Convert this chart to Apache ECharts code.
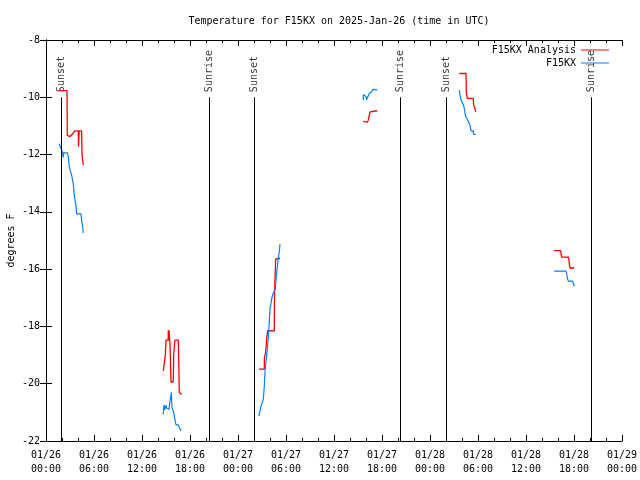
<!DOCTYPE html>
<html>
<head>
<meta charset="utf-8">
<script src="https://cdn.jsdelivr.net/npm/echarts@6/dist/echarts.min.js"></script>
<style>html,body{margin:0;padding:0;background:#fff}#c{width:640px;height:480px}</style>
</head>
<body>
<div id="c"></div>
<script>
// hours since 2025-01-26 00:00 UTC, temperature in degrees F
const analysisSeg1 = [[1.75,-9.77],[2.63,-9.77],[2.66,-11.33],[3.0,-11.37],[3.25,-11.3],[3.6,-11.17],[4.04,-11.17],[4.06,-11.73],[4.15,-11.17],[4.45,-11.17],[4.5,-12.0],[4.6,-12.03],[4.66,-12.37]];
const analysisSeg2 = [[14.66,-19.55],[14.91,-19.55],[14.91,-19.03],[15.0,-19.03],[15.0,-18.48],[15.27,-18.48],[15.29,-18.13],[15.33,-18.5],[15.37,-18.13],[15.44,-18.13],[15.5,-18.6],[15.58,-19.5],[15.63,-19.94],[15.91,-19.94],[15.96,-19.0],[16.04,-18.68],[16.125,-18.48],[16.54,-18.48],[16.6,-19.38],[16.66,-20.31],[16.85,-20.31],[16.96,-20.38]];
const analysisSeg3 = [[26.625,-19.49],[27.29,-19.49],[27.3,-19.1],[27.46,-18.9],[27.59,-18.4],[27.71,-18.15],[28.54,-18.15],[28.56,-16.93],[28.625,-16.9],[28.71,-15.65],[29.25,-15.62]];
const analysisSeg4 = [[39.66,-10.84],[40.16,-10.87],[40.29,-10.8],[40.375,-10.68],[40.5,-10.51],[40.625,-10.47],[41.41,-10.47]];
const analysisSeg5 = [[51.66,-9.17],[51.75,-9.12],[51.96,-9.17],[52.5,-9.17],[52.54,-9.81],[52.66,-10.04],[53.41,-10.04],[53.45,-10.27],[53.625,-10.4],[53.71,-10.51]];
const analysisSeg6 = [[63.5,-15.35],[64.34,-15.35],[64.375,-15.45],[64.46,-15.58],[65.29,-15.58],[65.375,-15.7],[65.41,-15.82],[65.5,-15.96],[66.04,-15.96]];

const obsSeg1 = [[1.63,-11.62],[1.96,-11.85],[2.09,-11.94],[2.16,-12.1],[2.2,-11.94],[2.66,-11.94],[2.79,-12.08],[2.91,-12.43],[3.09,-12.61],[3.21,-12.73],[3.41,-13.02],[3.54,-13.43],[3.71,-13.72],[3.84,-14.07],[4.375,-14.07],[4.46,-14.3],[4.59,-14.53],[4.66,-14.74]];
const obsSeg2 = [[14.66,-21.07],[14.7,-20.85],[14.79,-20.74],[14.85,-20.92],[14.9,-20.78],[14.96,-20.85],[15.02,-20.76],[15.08,-20.85],[15.15,-20.8],[15.21,-20.9],[15.3,-20.85],[15.375,-20.9],[15.45,-20.72],[15.5,-20.7],[15.56,-20.5],[15.625,-20.48],[15.67,-20.3],[15.71,-20.25],[15.75,-20.85],[15.79,-20.9],[15.91,-20.95],[16.04,-21.0],[16.125,-21.25],[16.25,-21.44],[16.42,-21.5],[16.54,-21.44],[16.66,-21.52],[16.75,-21.5],[16.875,-21.65]];
const obsSeg3 = [[26.625,-21.12],[26.75,-20.95],[26.875,-20.77],[27.04,-20.66],[27.16,-20.54],[27.29,-20.08],[27.375,-19.61],[27.46,-19.32],[27.59,-19.03],[27.71,-18.62],[27.79,-18.38],[27.91,-17.86],[28.0,-17.39],[28.125,-17.2],[28.25,-16.98],[28.41,-16.84],[28.54,-16.8],[28.66,-16.69],[28.75,-16.4],[28.84,-16.11],[28.96,-15.82],[29.04,-15.58],[29.16,-15.41],[29.25,-15.12]];
const obsSeg4 = [[39.66,-10.1],[39.68,-9.9],[39.875,-9.87],[40.0,-9.98],[40.09,-10.08],[40.29,-10.04],[40.41,-9.87],[40.59,-9.85],[40.71,-9.81],[40.84,-9.73],[41.41,-9.73]];
const obsSeg5 = [[51.66,-9.75],[51.75,-9.9],[51.875,-10.1],[52.09,-10.1],[52.16,-10.25],[52.29,-10.39],[52.375,-10.55],[52.46,-10.66],[52.59,-10.73],[52.71,-10.8],[52.875,-10.86],[53.0,-10.98],[53.125,-11.17],[53.41,-11.17],[53.45,-11.3],[53.71,-11.3]];
const obsSeg6 = [[63.5,-16.07],[65.0,-16.07],[65.09,-16.15],[65.16,-16.3],[65.29,-16.42],[65.84,-16.42],[65.91,-16.5],[66.04,-16.6]];

const sunTimes = [1.96, 20.41, 26.04, 44.25, 50.09, 68.21];
const sunNames = ['Sunset','Sunrise','Sunset','Sunrise','Sunset','Sunrise'];
const sunLineTop = -10;
const sunLabelY = -9.82;

const titleText = 'Temperature for F15KX on 2025-Jan-26 (time in UTC)';
const yName = 'degrees F';
const seriesNames = ['F15KX Analysis', 'F15KX'];

function joinSegs(segs) {
  const out = [];
  segs.forEach((s, i) => {
    if (i > 0) out.push([s[0][0] - 0.01, null]);
    s.forEach(p => out.push(p));
  });
  return out;
}
const analysisData = joinSegs([analysisSeg1, analysisSeg2, analysisSeg3, analysisSeg4, analysisSeg5, analysisSeg6]);
const obsData = joinSegs([obsSeg1, obsSeg2, obsSeg3, obsSeg4, obsSeg5, obsSeg6]);

const FONT = 'DejaVu Sans Mono';
function xLabel(v) {
  const d = 26 + Math.floor(v / 24);
  const h = Math.round(v % 24);
  return '01/' + String(d) + '\n' + String(h).padStart(2, '0') + ':00';
}
const baseX = {
  type: 'value', min: 0, max: 72, interval: 6,
  axisLine: { show: true, lineStyle: { color: '#000', width: 1 } },
  axisTick: { show: true, inside: true, length: 6, lineStyle: { color: '#000' } },
  minorTick: { show: true, splitNumber: 3, length: 3, lineStyle: { color: '#000' } },
  splitLine: { show: false }, minorSplitLine: { show: false }
};
const baseY = {
  type: 'value', min: -22, max: -8, interval: 2,
  axisLine: { show: true, lineStyle: { color: '#000', width: 1 } },
  axisTick: { show: true, inside: true, length: 6, lineStyle: { color: '#000' } },
  splitLine: { show: false }
};

const chart = echarts.init(document.getElementById('c'), null, { renderer: 'canvas' });
chart.setOption({
  animation: false,
  backgroundColor: '#fff',
  title: {
    text: titleText, left: 334, textAlign: 'center', top: 11,
    textStyle: { fontFamily: FONT, fontSize: 10, fontWeight: 'normal', color: '#000' }
  },
  legend: {
    data: seriesNames, orient: 'vertical', right: 31, top: 44, align: 'right',
    padding: 0, itemGap: 1, itemWidth: 28, itemHeight: 1, icon: 'rect',
    textStyle: { fontFamily: FONT, fontSize: 10, color: '#000', lineHeight: 12 }
  },
  grid: { left: 46, right: 18, top: 40, bottom: 39, containLabel: false, outerBoundsMode: 'none' },
  xAxis: [
    Object.assign({}, baseX, {
      position: 'bottom',
      axisLabel: { show: true, formatter: xLabel, fontFamily: FONT, fontSize: 10, color: '#000', lineHeight: 14, margin: 7, showMinLabel: true, showMaxLabel: true, hideOverlap: false }
    }),
    Object.assign({}, baseX, { position: 'top', axisLabel: { show: false } })
  ],
  yAxis: [
    Object.assign({}, baseY, {
      position: 'left', name: yName, nameLocation: 'middle', nameGap: 30, nameRotate: 90,
      nameMoveOverlap: false,
      nameTextStyle: { fontFamily: FONT, fontSize: 10, color: '#000' },
      axisLabel: { show: true, fontFamily: FONT, fontSize: 10, color: '#000', margin: 6 }
    }),
    Object.assign({}, baseY, { position: 'right', axisLabel: { show: false } })
  ],
  series: [
    {
      name: seriesNames[0], type: 'line', xAxisIndex: 0, yAxisIndex: 0,
      data: analysisData, showSymbol: false, symbol: 'none', connectNulls: false,
      lineStyle: { color: '#ff0000', width: 1.3 }, itemStyle: { color: '#ff0000' }, z: 3
    },
    {
      name: seriesNames[1], type: 'line', xAxisIndex: 0, yAxisIndex: 0,
      data: obsData, showSymbol: false, symbol: 'none', connectNulls: false,
      lineStyle: { color: '#0080ff', width: 1.2 }, itemStyle: { color: '#0080ff' }, z: 4
    },
    {
      name: 'sun', type: 'scatter', xAxisIndex: 0, yAxisIndex: 0,
      data: sunTimes.map((t, i) => [t, sunLabelY, sunNames[i]]),
      symbolSize: 0, silent: true,
      label: {
        show: true, position: [0, 0], rotate: 90, align: 'left', verticalAlign: 'middle',
        formatter: p => p.data[2], fontFamily: FONT, fontSize: 10, color: '#000'
      },
      markLine: {
        silent: true, symbol: ['none', 'none'], animation: false,
        lineStyle: { color: '#000', width: 1, type: 'solid' },
        label: { show: false },
        data: sunTimes.map(t => [{ coord: [t, -22] }, { coord: [t, sunLineTop] }])
      }
    }
  ]
});
</script>
</body>
</html>
